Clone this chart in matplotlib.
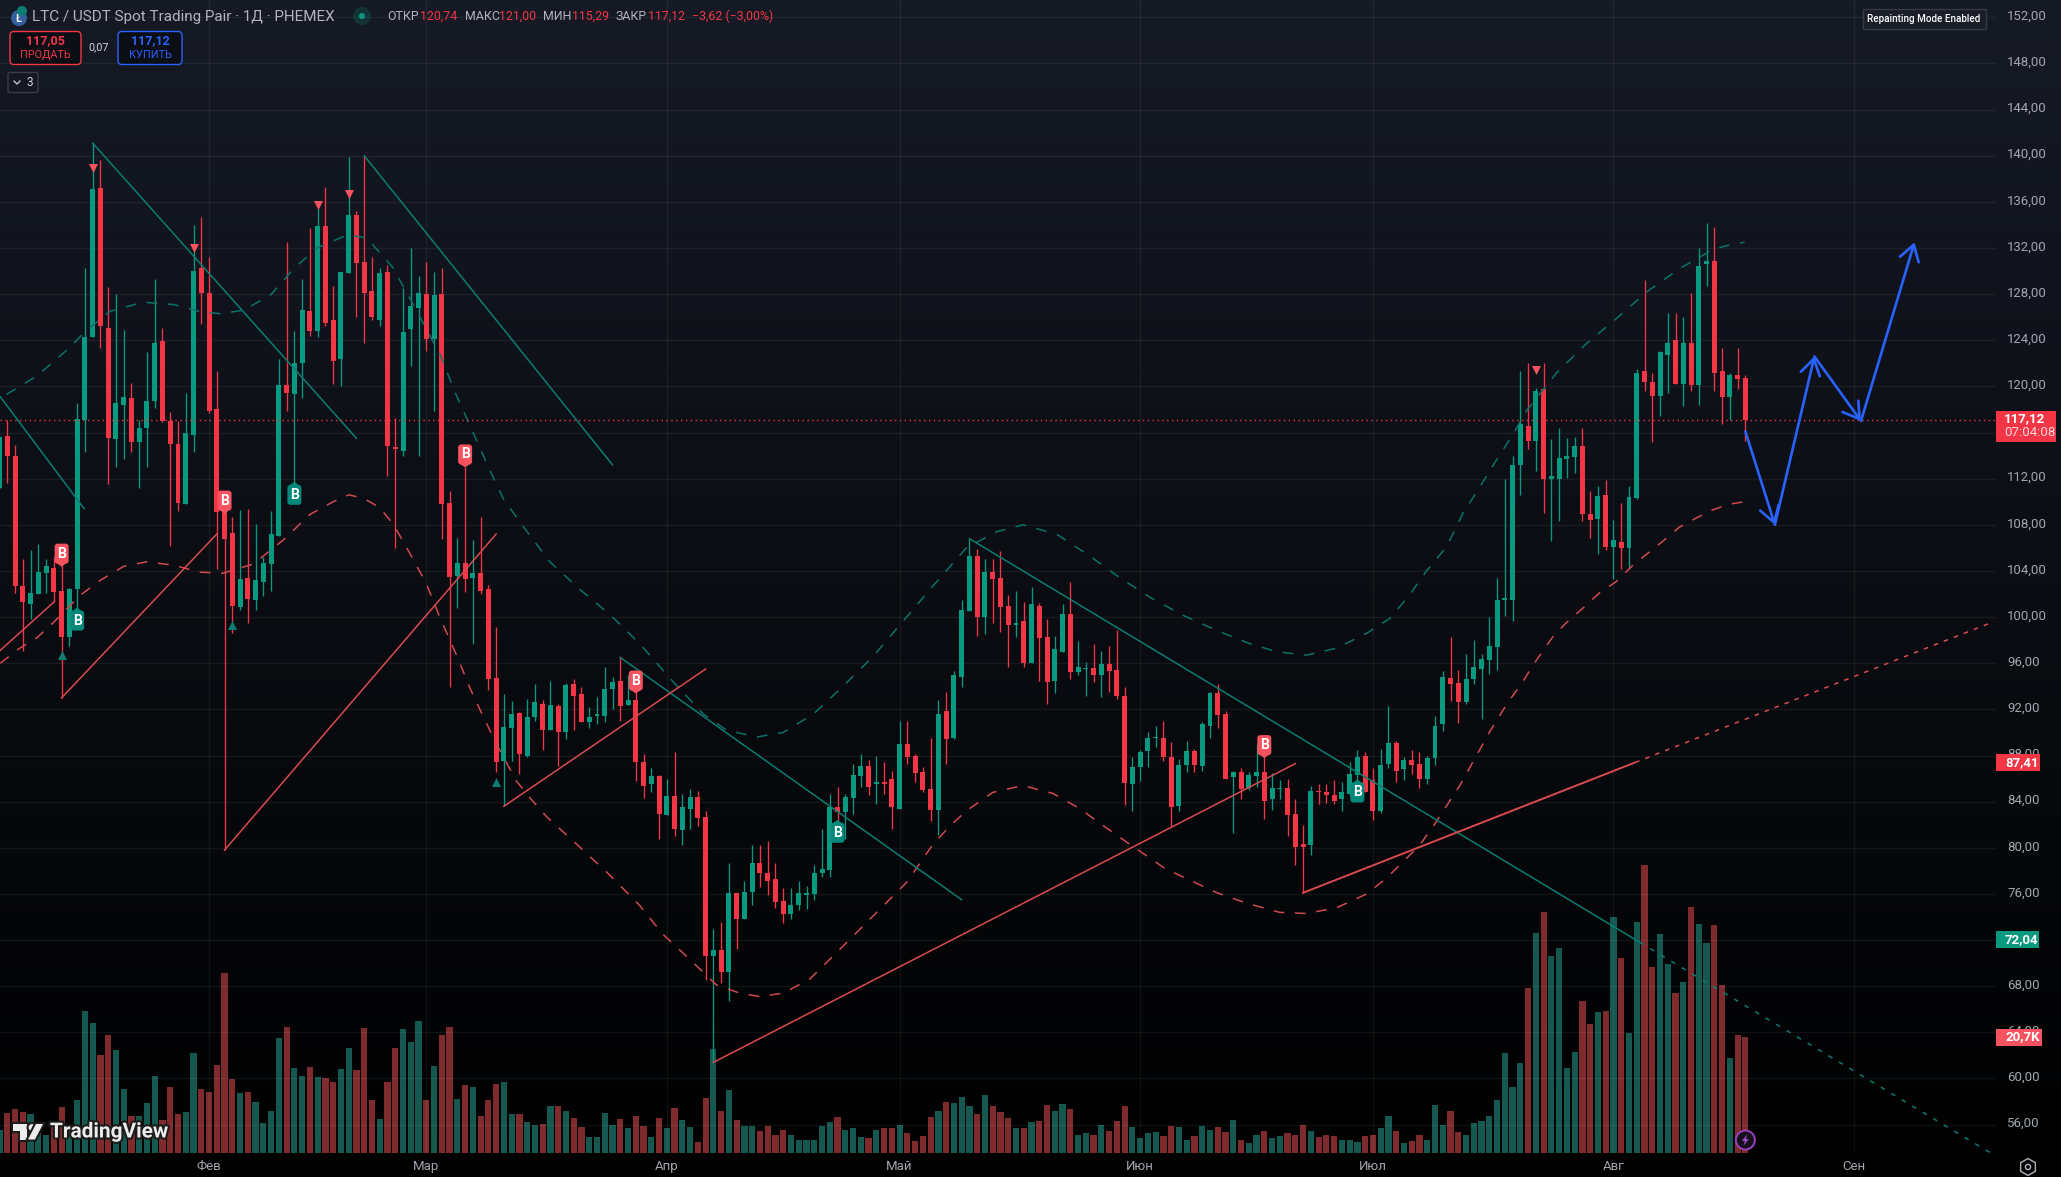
import matplotlib
matplotlib.use('Agg')
import matplotlib.pyplot as plt
import numpy as np
from matplotlib.patches import FancyBboxPatch, Polygon, Circle, Rectangle
from matplotlib.transforms import Affine2D
import matplotlib.patheffects as pe

plt.rcParams['font.family'] = ['Roboto', 'DejaVu Sans']

# daily candles, first one is cut off by the left edge
opens = [111.2,
    115.7,114.0,102.7,101.1,102.0,103.8,104.3,102.3,98.3,102.4,
    117.1,124.3,137.2,125.1,115.4,118.4,119.0,115.2,116.4,118.7,
    123.9,117.0,115.0,109.8,115.8,130.3,128.1,118.0,109.1,107.3,
    100.9,103.4,101.5,103.0,104.6,107.0,120.1,119.3,122.0,126.5,
    124.8,133.9,125.8,122.4,129.8,134.9,130.8,128.3,125.8,129.9,
    114.7,114.4,125.0,126.8,128.0,124.1,128.0,109.9,103.6,104.7,
    103.4,103.8,102.4,94.7,87.5,90.4,91.7,88.0,91.3,92.5,
    90.2,92.3,90.0,94.2,93.3,90.9,91.4,91.4,93.8,94.5,
    92.4,92.8,87.4,85.5,86.2,82.8,84.5,81.5,83.4,84.4,
    82.7,70.6,71.1,69.2,76.1,73.8,76.2,78.7,77.8,77.3,
    75.4,74.3,75.0,75.9,76.0,77.8,78.1,83.5,83.1,84.3,
    86.2,87.1,85.5,85.7,86.0,83.4,89.0,88.0,86.6,85.1,
    83.3,91.9,89.5,94.8,100.5,105.3,100.0,103.9,103.4,101.0,
    99.3,99.7,96.0,101.0,98.3,94.5,97.0,100.3,95.2,95.5,
    95.6,95.0,95.9,95.4,93.2,85.5,87.0,88.4,89.5,89.5,
    87.9,83.6,87.2,88.4,87.1,90.6,93.4,91.6,86.1,86.6,
    85.2,86.2,86.6,84.2,85.1,85.2,82.9,80.3,80.2,84.9,
    84.8,84.6,84.2,84.7,86.3,88.0,85.9,83.2,87.3,89.1,
    86.8,87.6,87.3,86.0,87.8,90.7,94.7,94.3,92.6,94.6,
    95.5,96.3,97.4,101.5,101.5,113.2,116.6,115.3,119.8,112.0,
    112.0,113.7,113.9,114.8,108.9,108.5,110.6,106.1,106.5,106.0,
    110.3,121.3,120.4,119.2,122.7,124.0,120.2,123.8,120.1,130.6,
    130.9,121.3,119.1,121.0,120.74]
closes = [115.6,
    114.0,102.7,101.3,102.1,103.9,104.4,102.2,98.3,102.4,117.2,
    124.3,137.1,125.2,115.5,118.6,119.1,115.2,116.4,118.7,123.8,
    117.0,115.0,109.9,116.0,130.0,128.1,117.9,109.1,106.8,101.0,
    103.3,101.6,103.2,104.7,107.2,120.1,119.4,122.0,126.6,124.8,
    133.9,125.5,122.2,129.9,134.9,130.7,128.1,126.0,129.8,114.8,
    114.6,124.7,127.0,128.1,124.1,127.9,109.8,103.5,104.7,103.3,
    103.8,102.3,94.6,87.4,90.5,91.6,88.1,91.3,92.6,90.2,
    92.4,90.0,94.1,93.2,90.9,91.3,91.6,93.8,94.4,92.3,
    92.8,87.4,85.4,86.2,82.9,84.5,81.6,83.5,84.4,82.6,
    70.6,71.1,69.2,76.1,73.8,76.2,78.7,77.8,77.1,75.3,
    74.3,75.0,76.1,76.1,77.8,78.2,83.5,83.1,84.4,86.3,
    87.1,85.3,85.7,85.5,83.5,89.0,87.9,86.5,85.0,83.3,
    91.6,89.4,95.0,100.6,105.3,100.0,103.9,103.3,100.9,99.3,
    99.5,96.0,101.1,98.2,94.4,97.2,100.3,95.2,95.7,95.6,
    95.0,95.9,95.3,93.2,85.6,87.0,88.3,89.5,89.6,87.9,
    83.5,87.2,88.4,87.2,90.7,93.4,91.5,86.0,86.6,85.1,
    86.3,86.6,84.1,85.2,85.2,82.8,80.1,80.1,84.9,84.8,
    84.6,84.1,84.8,86.4,87.9,84.8,83.2,87.2,89.1,86.7,
    87.6,87.2,86.0,87.8,90.6,94.8,94.2,92.6,94.6,95.7,
    96.4,97.5,101.5,101.6,113.2,116.7,115.3,119.6,112.0,112.2,
    113.8,114.0,114.8,108.9,108.4,110.5,106.1,106.7,106.0,110.4,
    121.2,120.4,119.2,123.0,123.8,120.2,123.8,120.1,130.4,130.9,
    121.2,119.1,121.0,120.6,117.12]
highs = [115.6,
    117.1,114.9,105.0,105.8,106.3,105.0,105.2,104.6,102.5,118.6,
    130.3,141.1,139.6,128.6,128.0,124.9,120.3,117.1,123.0,129.3,
    125.1,117.8,117.0,119.4,134.0,134.7,131.2,121.3,109.3,108.7,
    109.3,109.4,108.1,105.2,109.2,122.4,132.5,124.8,129.3,133.7,
    135.5,137.3,128.7,129.9,139.9,135.2,140.0,131.2,130.3,130.5,
    117.3,128.5,132.0,129.6,130.8,129.9,130.3,110.9,106.9,113.0,
    106.7,108.7,102.8,99.1,93.3,92.7,91.8,92.9,94.2,92.8,
    94.5,92.5,94.3,94.6,93.9,92.2,93.1,95.7,94.8,96.5,
    95.0,93.5,88.1,86.9,86.3,86.0,88.3,84.7,85.1,84.9,
    83.2,73.0,73.6,78.7,76.1,77.1,80.2,80.2,80.6,78.7,
    76.5,76.5,77.1,76.7,78.5,81.6,84.7,85.3,84.7,87.3,
    88.1,87.6,88.0,87.4,86.7,91.0,91.0,88.1,87.0,89.5,
    92.8,93.5,95.3,101.5,106.8,105.9,105.0,105.0,105.7,101.9,
    102.3,101.3,102.6,101.2,99.8,98.4,101.1,103.0,97.9,96.1,
    97.7,97.1,97.5,98.9,93.9,87.9,88.5,90.0,90.6,91.0,
    89.2,87.7,89.3,88.6,90.9,93.5,94.2,91.9,86.7,86.9,
    86.6,89.0,87.9,86.5,85.9,86.0,84.2,82.0,85.4,85.5,
    85.5,85.9,85.7,87.4,88.5,88.3,86.9,88.6,92.3,89.3,
    87.9,88.5,88.3,88.0,91.4,95.3,98.3,95.4,96.8,98.0,
    96.8,100.0,103.4,112.0,114.0,121.3,122.0,119.9,122.0,115.4,
    116.4,115.5,115.6,116.4,110.9,111.4,111.9,108.4,109.9,111.4,
    121.5,129.2,121.2,123.1,126.4,126.4,126.0,128.1,132.0,134.2,
    133.8,123.3,121.2,123.3,121.0]
lows = [111.2,
    111.6,102.1,97.1,99.8,102.0,102.1,101.3,93.0,97.5,100.5,
    114.3,124.3,123.3,111.5,113.0,113.7,114.3,111.2,113.0,118.1,
    116.9,106.2,109.2,109.8,114.3,125.4,117.7,104.2,79.8,98.6,
    100.6,99.5,100.6,101.8,102.3,107.0,117.9,111.6,119.0,124.4,
    124.3,125.2,120.2,120.0,129.8,126.0,123.8,125.8,125.2,112.2,
    106.0,114.0,121.8,114.0,123.1,117.9,106.8,93.9,100.8,102.2,
    97.7,102.0,93.7,86.6,83.6,87.5,86.4,87.9,91.0,88.5,
    90.2,87.1,89.4,90.2,90.9,90.4,90.7,90.9,92.0,91.0,
    92.4,85.8,84.3,84.8,80.8,82.8,81.0,80.2,81.6,81.9,
    68.5,61.4,68.3,66.7,71.2,73.8,75.0,76.6,75.9,74.8,
    73.5,73.8,74.6,74.7,75.5,77.5,77.5,81.8,80.8,82.9,
    85.3,84.6,83.8,84.7,81.6,83.4,87.3,85.7,84.8,82.3,
    81.1,87.3,89.4,93.9,100.5,98.4,98.5,99.5,98.7,95.7,
    98.3,95.7,96.0,94.5,92.5,93.4,97.0,94.6,95.0,93.2,
    94.4,93.1,93.5,92.9,83.7,83.2,85.8,87.0,88.7,87.5,
    81.9,83.2,86.6,86.6,86.7,89.5,90.4,86.0,81.3,84.2,
    85.0,85.3,82.5,83.3,84.2,81.0,78.5,76.1,79.4,83.8,
    83.9,83.8,83.2,84.5,85.7,84.8,82.4,83.0,86.9,85.7,
    85.9,86.4,85.2,85.5,87.2,90.1,92.7,90.8,92.5,94.2,
    91.2,95.1,95.4,100.1,99.7,110.6,114.6,112.7,109.0,106.6,
    108.3,112.1,112.5,108.3,106.9,105.5,105.8,103.3,104.2,104.2,
    110.2,119.6,115.2,117.4,119.4,120.2,118.3,119.6,118.4,128.7,
    119.6,116.7,117.1,119.8,115.29]
# volume in thousands
volumes = [4.2,
    7.1,7.8,7.3,6.9,5.0,3.2,5.0,8.2,5.0,9.4,
    25.4,23.2,17.5,21.1,18.4,11.4,6.7,6.7,8.9,13.7,
    5.9,11.8,6.9,7.3,17.9,11.4,10.9,15.7,32.2,13.2,
    10.7,10.9,9.1,5.3,7.6,20.5,22.5,15.2,13.7,15.3,
    13.6,13.4,12.7,15.0,18.7,14.8,22.3,9.4,6.0,12.7,
    18.7,22.1,19.8,23.6,9.4,15.5,21.1,22.5,9.6,12.1,
    11.8,6.6,9.4,12.3,12.7,6.9,6.9,5.5,5.0,5.1,
    8.4,8.4,7.5,6.2,4.6,2.8,2.8,7.1,5.0,6.0,
    4.4,6.6,4.8,2.8,6.2,4.4,8.0,5.9,4.6,1.9,
    9.8,18.6,7.5,11.2,5.9,4.8,4.8,3.9,4.8,3.2,
    4.2,3.2,2.4,2.4,2.3,4.8,5.5,6.4,4.2,4.4,
    2.8,2.6,4.2,4.4,4.4,5.0,3.5,2.1,3.0,6.4,
    7.5,9.1,8.9,10.1,8.4,6.9,10.3,8.4,7.3,6.2,
    4.4,4.4,5.5,5.7,8.5,7.6,8.7,7.8,3.3,3.5,
    3.3,5.0,3.9,5.7,8.4,4.6,2.6,3.5,3.7,3.0,
    4.8,4.6,2.3,3.0,4.8,4.2,4.6,3.7,5.9,2.3,
    1.7,3.3,3.9,2.6,3.0,3.5,3.2,5.0,3.9,2.8,
    3.2,3.0,2.4,2.3,1.9,3.0,3.2,4.4,6.7,3.9,
    1.7,2.1,3.2,2.4,8.5,5.0,7.6,3.7,3.3,5.3,
    5.7,6.6,9.4,17.9,11.8,16.1,29.5,39.3,43.1,35.2,
    36.7,15.2,18.0,27.2,23.0,25.2,25.4,42.2,34.9,21.4,
    41.3,51.5,33.3,39.2,33.8,28.6,30.6,44.0,41.0,37.6,
    40.8,30.0,17.0,21.1,20.7]

month_idx = [26, 54, 85, 115, 146, 176, 207, 238]
month_labels = ['Фев', 'Мар', 'Апр', 'Май', 'Июн', 'Июл', 'Авг', 'Сен']
price_ticks = list(range(56, 153, 4))
# these two sit fully behind the price boxes in the original
hidden_ticks = [72, 116]

# dashed envelope, upper and lower
upper_x = [-0.1,3.8,8.1,9.8,13.2,17.5,21.4,24.8,27.4,30.4,33.9,36.9,39.9,43.7,46.3,49.7,52.8,55.8,57.9,60.1,62,63.9,
    66.1,69.9,73.8,77.7,81.5,85.8,89.7,92.7,96.6,100,103.9,107.7,111.6,115.9,119.3,123.6,127.5,130.9,135.2,139.5,
    143.4,147.3,151.7,156,160.1,163.6,167.4,171.3,175.2,178.2,180.7,182.9,185.5,187.6,189.8,191.9,194.1,195.8,
    199.7,203.5,207.4,211.3,215.5,219.9,221.6,223.9]
upper_p = [119.3,120.9,123.4,124.6,126.5,127.3,127.1,126.5,126.3,126.6,127.9,130.2,132.0,133.1,132.9,130.3,126.5,122.7,119.2,115.9,113,110.3,
    108.2,104.8,102.4,100.2,97.7,94.4,91.6,90.2,89.6,90,91.6,94,96.6,100,102.7,106,107.4,108,107.2,105.3,
    103.4,101.7,100.1,98.8,97.7,97,96.7,97.3,98.6,99.9,101.9,104,106.1,109,111.3,113.6,115.9,117.9,
    121.2,123.7,125.9,128.2,130.2,131.9,132.2,132.5]
lower_x = [-0.9,1.6,3.8,5.9,9.4,12,15,18,21.4,24.8,27.8,31.7,35.6,39,42,44,45.9,48,49.8,51.9,54,55.8,57.9,59.6,
    60.9,63.1,65.6,67.4,69.5,73.4,77.7,81.5,84.5,88,91.4,94.4,97,100,103.4,107.3,111.6,115.9,119.3,121.5,123.6,
    127,130.9,134.8,138.2,141.7,145.1,149,151.1,155.9,159.7,164,167.4,171.3,175.2,177.8,179.9,182,184,187.2,189.1,191,193.2,195.4,
    197.1,199.2,200.9,203.1,205.2,207.4,209.5,213.4,215.5,217.7,219.8,222,223.9]
lower_p = [96.0,97.3,98.2,99.5,101.9,103.2,104.4,104.8,104.5,103.9,103.8,104.6,106.7,108.9,110,110.6,110.3,109.5,108,105.5,102.9,99.9,96.7,93.9,
    92,88.9,85.8,84.3,82.7,80.3,77.6,75,72.5,70.3,68.1,67.4,67.1,67.4,68.6,71.2,74.1,77,80.3,81.9,83.2,
    84.8,85.4,84.7,83.4,81.7,80.1,78.3,77.6,76.1,75.2,74.4,74.3,74.8,76,77.4,78.8,80.2,82.1,85.4,87.7,90,92.4,94.5,
    96.3,98.3,99.5,100.8,102.1,103.1,104.5,106.6,107.8,108.6,109.3,109.8,110]

# trend lines as (x0, p0, x1, p1)
teal_lines = [(-0.9, 119.1, 9.9, 109.4), (11, 141.1, 45, 115.5), (46, 140.0, 78, 113.2),
              (79, 96.5, 123, 75.5), (124, 106.8, 210.4, 71.8)]
teal_dashed = (210.4, 71.8, 255.7, 53.5)
red_lines = [(-0.94, 97.1, 6, 101.3), (7, 93.0, 27, 107.2), (28, 79.8, 63, 107.2),
             (64, 83.6, 90, 95.5), (91, 61.4, 166, 87.3)]
red_thick = (167, 76.1, 209.8, 87.4)
red_dashed = (209.8, 87.4, 256, 99.6)

arrow_x = [224, 227.8, 232.9, 238.9, 245.8]
arrow_p = [116.1, 108.0, 122.6, 117.0, 132.5]

sell_tri_x = [11, 24, 40, 44, 197]
sell_tri_p = [138.9, 132.0, 135.7, 136.7, 121.4]
buy_tri_x = [7, 29, 63]
buy_tri_p = [96.7, 99.3, 85.7]
red_flag_x = [7, 28, 59, 81, 162]
red_flag_p = [105.5, 110.1, 114.1, 94.5, 88.9]
green_flag_x = [9, 37, 107, 174]
green_flag_p = [99.7, 110.6, 81.3, 84.8]

UP = '#089981'
DOWN = '#f23645'
W, H = 2061, 1177
PLOT_W, PLOT_H = 1996, 1153

fig = plt.figure(figsize=(W / 100, H / 100), dpi=100, facecolor='black')

# background gradient
bg = fig.add_axes([0, 0, 1, 1], zorder=0)
grad = np.linspace(0, 1, 256).reshape(-1, 1)
top = np.array([0x16, 0x1a, 0x25]) / 255
rgb = (top[None, None, :] * (1 - grad[:, :, None]))
bg.imshow(rgb, aspect='auto', extent=[0, 1, 0, 1])
bg.set_axis_off()

rect = [0, (H - PLOT_H) / H, PLOT_W / W, PLOT_H / H]
xlim = (-0.94, 256.3)

# volume sits under the candles
vol_ax = fig.add_axes(rect, zorder=1)
vol_ax.patch.set_visible(False)
vol_ax.set_axis_off()
x = np.arange(-1, 225)
o, hi, lo, c, v = map(np.array, (opens, highs, lows, closes, volumes))
is_up = c >= o
vol_ax.bar(x, v, width=0.8, color=np.where(is_up, '#14584f', '#7f2b2d'))
vol_ax.set_xlim(*xlim)
vol_ax.set_ylim(0, PLOT_H * 20.7 / 115.7)

ax = fig.add_axes(rect, zorder=2)
ax.patch.set_visible(False)
ax.set_xlim(*xlim)
ax.set_ylim(53.54, 153.5)
for s in ax.spines.values():
    s.set_visible(False)
ax.yaxis.tick_right()
ax.set_yticks(price_ticks)
ax.set_yticklabels(['' if p in hidden_ticks else f'{p},00' for p in price_ticks])
ax.set_xticks(month_idx)
ax.set_xticklabels(month_labels)
ax.tick_params(axis='y', length=0, pad=8, labelsize=9.5, labelcolor='#a3a6af')
ax.tick_params(axis='x', length=0, pad=5, labelsize=9.5, labelcolor='#a3a6af')
ax.grid(True, color='white', alpha=0.06, linewidth=1)
ax.set_axisbelow(True)
# price labels sit a little above their grid lines
for label in ax.get_yticklabels():
    label.set_transform(label.get_transform() + Affine2D().translate(0, 2.5))

# candles
colors = np.where(is_up, UP, DOWN)
ax.vlines(x, lo, hi, colors=colors, linewidth=0.95, zorder=3)
ax.bar(x, np.maximum(np.abs(c - o), 0.12), bottom=np.minimum(o, c), width=0.64, color=colors, zorder=3)

# envelope and trend lines
ax.plot(upper_x, upper_p, color='#0a7268', linewidth=1.1, linestyle=(0, (7, 7)), zorder=4)
ax.plot(lower_x, lower_p, color='#cf4a4f', linewidth=1.1, linestyle=(0, (7, 7)), zorder=4)
for x0, p0, x1, p1 in teal_lines:
    ax.plot([x0, x1], [p0, p1], color='#0a7d70', linewidth=1.1, zorder=4)
ax.plot(teal_dashed[0::2], teal_dashed[1::2], color='#0a7d70', linewidth=1.1, linestyle=(0, (3, 5)), zorder=4)
for x0, p0, x1, p1 in red_lines:
    ax.plot([x0, x1], [p0, p1], color='#d84b4e', linewidth=1.1, zorder=4)
ax.plot(red_thick[0::2], red_thick[1::2], color='#d84b4e', linewidth=1.4, zorder=4)
ax.plot(red_dashed[0::2], red_dashed[1::2], color='#d84b4e', linewidth=1.1, linestyle=(0, (3, 4)), zorder=4)

# last price line
ax.axhline(closes[-1], color=DOWN, linewidth=1, linestyle=(0, (1, 2.5)), zorder=4)

ax.scatter(sell_tri_x, sell_tri_p, marker='v', s=42, color='#f7525f', linewidths=0, zorder=5)
ax.scatter(buy_tri_x, buy_tri_p, marker='^', s=42, color='#0a7d70', linewidths=0, zorder=5)

# hand drawn blue arrows
for i in range(len(arrow_x) - 1):
    ax.annotate('', xy=(arrow_x[i + 1], arrow_p[i + 1]), xytext=(arrow_x[i], arrow_p[i]),
                arrowprops=dict(arrowstyle='->,head_length=0.8,head_width=0.5', color='#2962ff',
                                lw=1.9, shrinkA=0, shrinkB=0, mutation_scale=14), zorder=6)

# overlay in pixel coordinates for labels and screen furniture
ui = fig.add_axes([0, 0, 1, 1], zorder=5)
ui.patch.set_visible(False)
ui.set_xlim(0, W)
ui.set_ylim(H, 0)
ui.set_axis_off()


def to_px(k, p):
    px, py = ax.transData.transform((k, p))
    return px, H - py


def flag(k, p, color, up):
    px, py = to_px(k, p)
    ui.add_patch(FancyBboxPatch((px - 7, py - 10), 14, 20, boxstyle='round,pad=0,rounding_size=3',
                                fc=color, ec='none', zorder=6))
    tip = py - 13 if up else py + 13
    base = py - 9 if up else py + 9
    ui.add_patch(Polygon([(px - 5.5, base), (px + 5.5, base), (px, tip)], fc=color, ec='none', zorder=6))
    ui.text(px, py, 'B', color='white', fontsize=10, fontweight='bold', ha='center', va='center', zorder=7)


for k, p in zip(red_flag_x, red_flag_p):
    flag(k, p, '#f7525f', False)
for k, p in zip(green_flag_x, green_flag_p):
    flag(k, p, '#00897b', True)


def price_box(p, text, color, width, height):
    _, py = to_px(0, p)
    ui.add_patch(Rectangle((1996, py - 8.5), width, height, fc=color, ec='none', zorder=6))
    ui.text(2005, py, text, color='white', fontsize=9.5, fontweight='bold', va='center', zorder=7)


# price labels on the right scale
ui.add_patch(Rectangle((1996, 411), 60, 31, fc=DOWN, ec='none', zorder=6))
ui.text(2004, 418.5, '117,12', color='white', fontsize=9.5, fontweight='bold', va='center', zorder=7)
ui.text(2004, 433, '07:04:08', color='#fbd5d9', fontsize=9.5, va='center', zorder=7)
price_box(87.41, '87,41', '#f23645', 44, 17)
price_box(72.04, '72,04', UP, 43, 17)
ui.add_patch(Rectangle((1996, 1028.5), 45.5, 17.5, fc='#f7525f', ec='none', zorder=6))
ui.text(2005, 1037, '20,7K', color='white', fontsize=9.5, fontweight='bold', va='center', zorder=7)

# header
ui.add_patch(Circle((19, 18), 8, fc='#345d9d', ec='none', zorder=6))
ui.add_patch(Circle((22, 11), 5, fc='#0e7c74', ec='none', zorder=6))
ui.text(18.5, 18.5, 'Ł', color='white', fontsize=7.5, fontweight='bold', ha='center', va='center', zorder=7)
ui.text(32, 16.5, 'LTC / USDT Spot Trading Pair · 1Д · PHEMEX', color='#b2b5be', fontsize=11, va='center')
ui.add_patch(Circle((362, 16), 9, fc='#089981', alpha=0.2, ec='none'))
ui.add_patch(Circle((362, 16), 3, fc='#089981', ec='none'))
ohlc_keys = [('ОТКР', 387), ('МАКС', 465), ('МИН', 543.5), ('ЗАКР', 616)]
ohlc_vals = [('120,74', 420), ('121,00', 499), ('115,29', 572), ('117,12', 648), ('−3,62 (−3,00%)', 692.5)]
for label, px in ohlc_keys:
    ui.text(px, 16.5, label, color='#b2b5be', fontsize=8.9, va='center')
for label, px in ohlc_vals:
    ui.text(px, 16.5, label, color=DOWN, fontsize=8.9, va='center')

# sell / buy buttons
ui.add_patch(FancyBboxPatch((10, 31.5), 71, 33, boxstyle='round,pad=0,rounding_size=4', fc='#0c0e15', ec=DOWN, lw=1))
ui.text(45.5, 41, '117,05', color=DOWN, fontsize=9, fontweight='bold', ha='center', va='center')
ui.text(45.5, 55, 'ПРОДАТЬ', color=DOWN, fontsize=7.8, ha='center', va='center')
ui.text(99, 47, '0,07', color='#d1d4dc', fontsize=7.8, ha='center', va='center')
ui.add_patch(FancyBboxPatch((118, 31.5), 64, 33, boxstyle='round,pad=0,rounding_size=4', fc='#0c0e15', ec='#2962ff', lw=1))
ui.text(150, 41, '117,12', color='#2962ff', fontsize=9, fontweight='bold', ha='center', va='center')
ui.text(150, 55, 'КУПИТЬ', color='#2962ff', fontsize=7.8, ha='center', va='center')
ui.add_patch(FancyBboxPatch((8, 72.5), 30, 20, boxstyle='round,pad=0,rounding_size=2', fc='none', ec='#3a3d47', lw=1))
ui.plot([14, 17, 20], [81, 84, 81], color='#d1d4dc', lw=0.9)
ui.text(30, 82.5, '3', color='#d1d4dc', fontsize=8.6, ha='center', va='center')

ui.add_patch(Rectangle((1862.5, 8.5), 123, 20, fc='#1a1e29', ec='#363a45', lw=1))
ui.text(1924, 18.5, 'Repainting Mode Enabled', color='white', fontsize=7.1, fontweight='medium', ha='center', va='center')

# watermark logo
edge = [pe.withStroke(linewidth=3, foreground='#1c1c1c')]
logo = [Polygon([(13, 1124), (27, 1124), (27, 1139.5), (20, 1139.5), (20, 1131), (13, 1131)], fc='#ececec', ec='none', zorder=8),
        Circle((32, 1127.5), 3.4, fc='#ececec', ec='none', zorder=8),
        Polygon([(36, 1124), (43, 1124), (35, 1139.5), (28, 1139.5)], fc='#ececec', ec='none', zorder=8)]
for patch in logo:
    patch.set_path_effects(edge)
    ui.add_patch(patch)
ui.text(50, 1132, 'TradingView', color='#ececec', fontsize=15, fontweight='bold', va='center', zorder=8,
        path_effects=edge)

# lightning badge on the last bar
lx, _ = to_px(224, 0)
ui.add_patch(Circle((lx, 1140), 9.5, fc='#14101c', ec='#9c3fc0', lw=1.4, zorder=8))
ui.add_patch(Polygon([(lx + 2, 1134), (lx - 3.5, 1141), (lx - 0.5, 1141), (lx - 2, 1146), (lx + 3.5, 1139), (lx + 0.5, 1139)],
                     fc='#a24bc4', ec='none', zorder=9))

# settings icon in the corner
ui.scatter([2028], [1167], marker='h', s=150, facecolor='none', edgecolor='#b2b5be', linewidths=1)
ui.scatter([2028], [1167], marker='o', s=14, facecolor='none', edgecolor='#b2b5be', linewidths=1)

plt.savefig('out.png', dpi=100, facecolor='black')
